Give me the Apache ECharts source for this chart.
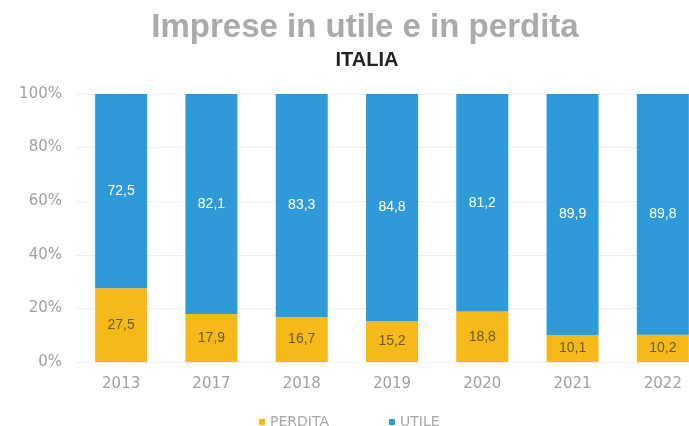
<!DOCTYPE html>
<html>
<head>
<meta charset="utf-8">
<script src="https://cdn.jsdelivr.net/npm/echarts@6/dist/echarts.min.js"></script>
<style>
  html, body { margin: 0; padding: 0; background: #fff; overflow: hidden; }
  /* the plot runs past the right edge of the window, so the canvas is wider than the view */
  #chart { width: 720px; height: 426px; }
</style>
</head>
<body>
<div id="chart"></div>
<script>
// Share of companies with losses (PERDITA) and profits (UTILE), Italy
const years = ['2013', '2017', '2018', '2019', '2020', '2021', '2022'];
const perdita = [27.5, 17.9, 16.7, 15.2, 18.8, 10.1, 10.2];
const utile = [72.5, 82.1, 83.3, 84.8, 81.2, 89.9, 89.8];
const yTicks = [0, 20, 40, 60, 80, 100];

const fmt = v => v.toFixed(1).replace('.', ',');

const chart = echarts.init(document.getElementById('chart'));
chart.setOption({
  animation: false,
  backgroundColor: '#ffffff',
  title: [
    {
      text: 'Imprese in utile e in perdita',
      left: 360,
      textAlign: 'center',
      top: 6,
      textStyle: { fontFamily: 'Liberation Sans, Arial', fontSize: 33, fontWeight: 'bold', color: '#aaaaaa' }
    },
    {
      text: 'ITALIA',
      left: 362,
      textAlign: 'center',
      top: 45,
      textStyle: { fontFamily: 'Liberation Sans Narrow, Liberation Sans', fontSize: 20, fontWeight: 'bold', color: '#222222' }
    }
  ],
  legend: {
    data: ['PERDITA', 'UTILE'],
    left: 254,
    top: 410,
    itemWidth: 6,
    itemHeight: 6,
    itemGap: 60,
    icon: 'rect',
    textStyle: { fontFamily: 'DejaVu Sans', fontSize: 14, color: '#a8a8a8' }
  },
  grid: { left: 76, top: 94, width: 632, height: 268 },
  xAxis: {
    type: 'category',
    data: years,
    axisLine: { show: false },
    axisTick: { show: false },
    axisLabel: { margin: 15, fontFamily: 'DejaVu Sans', fontSize: 15, color: '#a0a0a0' }
  },
  yAxis: {
    type: 'value',
    min: 0,
    max: 100,
    interval: 20,
    axisLine: { show: false },
    axisTick: { show: false },
    splitLine: { lineStyle: { color: '#efefef', width: 1 } },
    axisLabel: {
      margin: 14,
      fontFamily: 'DejaVu Sans',
      fontSize: 15,
      color: '#a0a0a0',
      formatter: v => (yTicks.includes(v) ? v + '%' : '')
    }
  },
  series: [
    {
      name: 'PERDITA',
      type: 'bar',
      stack: 'tot',
      data: perdita,
      barWidth: 52,
      itemStyle: { color: '#f6b91a' },
      label: {
        show: true,
        position: 'inside',
        formatter: p => fmt(p.value),
        fontFamily: 'Liberation Sans',
        fontSize: 14,
        color: '#6b5a1e'
      }
    },
    {
      name: 'UTILE',
      type: 'bar',
      stack: 'tot',
      data: utile,
      barWidth: 52,
      itemStyle: { color: '#2f9ad8' },
      label: {
        show: true,
        position: 'inside',
        formatter: p => fmt(p.value),
        fontFamily: 'Liberation Sans',
        fontSize: 14,
        color: '#ffffff'
      }
    }
  ]
});
</script>
</body>
</html>
